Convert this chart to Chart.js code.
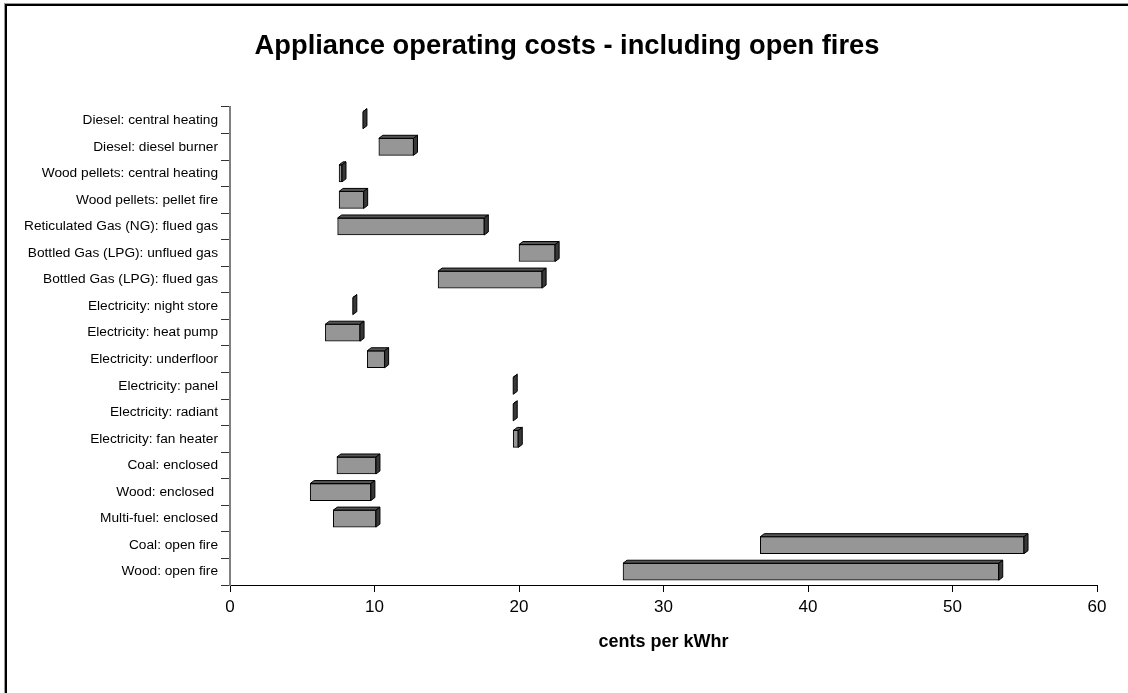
<!DOCTYPE html>
<html>
<head>
<meta charset="utf-8">
<title>Appliance operating costs</title>
<script src="https://cdn.jsdelivr.net/npm/chart.js@4.4.1/dist/chart.umd.min.js"></script>
<style>
  html, body { margin: 0; padding: 0; background: #ffffff; }
  #wrap { width: 1128px; height: 693px; }
</style>
</head>
<body>
<div id="wrap"><canvas id="chart" width="1128" height="693"></canvas></div>
<script>
// Heating appliances, listed top to bottom
const categories = [
  'Diesel: central heating',
  'Diesel: diesel burner',
  'Wood pellets: central heating',
  'Wood pellets: pellet fire',
  'Reticulated Gas (NG): flued gas',
  'Bottled Gas (LPG): unflued gas',
  'Bottled Gas (LPG): flued gas',
  'Electricity: night store',
  'Electricity: heat pump',
  'Electricity: underfloor',
  'Electricity: panel',
  'Electricity: radiant',
  'Electricity: fan heater',
  'Coal: enclosed',
  'Wood: enclosed ',
  'Multi-fuel: enclosed',
  'Coal: open fire',
  'Wood: open fire'
];

// Operating cost range, cents per kWhr
const lowCost  = [9.2, 10.3, 7.55, 7.55, 7.45, 20.0, 14.4, 8.5, 6.6, 9.5, 19.6, 19.6, 19.6, 7.4, 5.55, 7.15, 36.7, 27.2];
const highCost = [9.2, 12.7, 7.75, 9.25, 17.6, 22.5, 21.6, 8.5, 9.0, 10.7, 19.6, 19.6, 19.95, 10.1, 9.75, 10.1, 54.95, 53.2];

const xTicks = [0, 10, 20, 30, 40, 50, 60];

const ranges = categories.map((_, i) => [lowCost[i], highCost[i]]);

const FONT = 'Liberation Sans, Arial, sans-serif';

// Page background and the frame along the top and left edges
const framePlugin = {
  id: 'frame',
  afterLayout(chart) {
    // centre the heading over the span between the frame and the plot's right edge
    if (chart.titleBlock) {
      chart.titleBlock.left = 37;
      chart.titleBlock.right = chart.chartArea.right;
    }
  },
  beforeDraw(chart) {
    const ctx = chart.ctx;
    ctx.save();
    ctx.fillStyle = '#ffffff';
    ctx.fillRect(0, 0, chart.width, chart.height);
    ctx.fillStyle = '#9a9a9a';
    ctx.fillRect(4, 3, chart.width - 4, 1);
    ctx.fillRect(4, 3, 1, chart.height - 3);
    ctx.fillStyle = '#000000';
    ctx.fillRect(5, 4, chart.width - 5, 2);
    ctx.fillRect(5, 4, 2, chart.height - 4);
    ctx.restore();
  }
};

// Top and side faces that give each bar its depth
const depthPlugin = {
  id: 'depth',
  afterDatasetsDraw(chart) {
    const ctx = chart.ctx;
    const dx = 4, dy = -3;
    const meta = chart.getDatasetMeta(0);
    ctx.save();
    ctx.lineWidth = 1;
    ctx.strokeStyle = '#000000';
    ctx.lineJoin = 'miter';
    meta.data.forEach(bar => {
      const p = bar.getProps(['x', 'y', 'base', 'height'], true);
      const left = Math.min(p.x, p.base);
      const right = Math.max(p.x, p.base);
      const top = p.y - p.height / 2;
      const bottom = p.y + p.height / 2;
      // top face
      ctx.beginPath();
      ctx.moveTo(left, top);
      ctx.lineTo(left + dx, top + dy);
      ctx.lineTo(right + dx, top + dy);
      ctx.lineTo(right, top);
      ctx.closePath();
      ctx.fillStyle = '#555555';
      ctx.fill();
      ctx.stroke();
      // side face
      ctx.beginPath();
      ctx.moveTo(right, top);
      ctx.lineTo(right + dx, top + dy);
      ctx.lineTo(right + dx, bottom + dy);
      ctx.lineTo(right, bottom);
      ctx.closePath();
      ctx.fillStyle = '#383838';
      ctx.fill();
      ctx.stroke();
    });
    ctx.restore();
  }
};

new Chart(document.getElementById('chart'), {
  type: 'bar',
  data: {
    labels: categories,
    datasets: [{
      label: 'cents per kWhr',
      data: ranges,
      backgroundColor: '#969696',
      borderColor: '#000000',
      borderWidth: 1,
      borderSkipped: false,
      barThickness: 17
    }]
  },
  options: {
    indexAxis: 'y',
    responsive: false,
    animation: false,
    events: [],
    layout: { padding: { left: 0, right: 31, top: 0, bottom: 0 } },
    plugins: {
      legend: { display: false },
      tooltip: { enabled: false },
      title: {
        display: true,
        text: 'Appliance operating costs - including open fires',
        color: '#000000',
        font: { family: FONT, size: 27.3, weight: 'bold' },
        padding: { top: 30, bottom: 44.2 }
      }
    },
    scales: {
      x: {
        type: 'linear',
        min: 0,
        max: 60,
        afterBuildTicks(scale) { scale.ticks = xTicks.map(v => ({ value: v })); },
        afterFit(scale) { scale.height = 108; },
        border: { display: true, color: '#000000', width: 1 },
        grid: { drawOnChartArea: false, drawTicks: true, tickLength: 7, color: '#000000' },
        ticks: {
          color: '#000000',
          padding: 5,
          font: { family: FONT, size: 17 }
        },
        title: {
          display: true,
          text: 'cents per kWhr',
          color: '#000000',
          font: { family: FONT, size: 18, weight: 'bold' },
          padding: { top: 0, bottom: 40 }
        }
      },
      y: {
        type: 'category',
        afterFit(scale) { scale.width = 230; },
        border: { display: true, color: '#808080', width: 2 },
        grid: { drawOnChartArea: false, drawTicks: true, tickLength: 9, color: '#333333', offset: true },
        ticks: {
          color: '#000000',
          padding: 3,
          font: { family: FONT, size: 13.7 }
        }
      }
    }
  },
  plugins: [framePlugin, depthPlugin]
});
</script>
</body>
</html>
